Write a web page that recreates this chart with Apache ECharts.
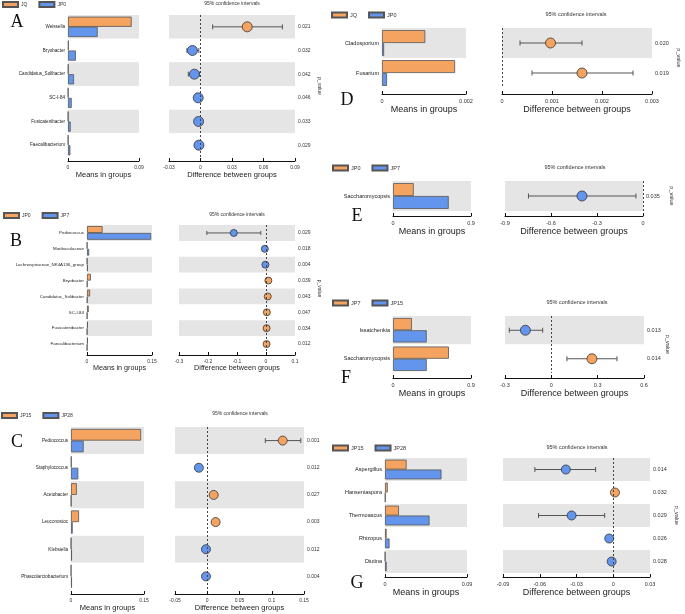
<!DOCTYPE html>
<html><head><meta charset="utf-8">
<script src="https://cdn.jsdelivr.net/npm/echarts@6/dist/echarts.min.js"></script>
<style>html,body{margin:0;padding:0;background:#fff}#c{width:685px;height:614px}</style>
</head><body><div id="c"></div><script>
// ---------- DATA ----------
const A_groups = ['JQ', 'JP0'];
const A_taxa = ['Weissella', 'Bryobacter', 'Candidatus_Solibacter', 'SC-I-84', 'Fusicatenibacter', 'Faecalibacterium'];
const A_mean1 = [0.0807, 0.0008, 0.0005, 0.0003, 0.0003, 0.0003];
const A_mean2 = [0.0376, 0.0100, 0.0076, 0.0047, 0.0034, 0.0030];
const A_diff = [0.0445, -0.0077, -0.0058, -0.0022, -0.0018, -0.0015];
const A_lo = [0.0116, -0.0129, -0.0116, -0.0040, -0.0030, -0.0026];
const A_hi = [0.0780, -0.0016, -0.0010, -0.0005, -0.0006, -0.0004];
const A_p = ['0.021', '0.032', '0.042', '0.046', '0.033', '0.029'];
const A_barTicks = [0, 0.09];
const A_diffTicks = [-0.03, 0, 0.03, 0.06, 0.09];

const B_groups = ['JP0', 'JP7'];
const B_taxa = ['Pediococcus', 'Muribaculaceae', 'Lachnospiraceae_NK4A136_group', 'Bryobacter', 'Candidatus_Solibacter', 'SC-I-84', 'Fusicatenibacter', 'Faecalibacterium'];
const B_mean1 = [0.036, 0.0005, 0.0005, 0.009, 0.007, 0.004, 0.002, 0.002];
const B_mean2 = [0.148, 0.005, 0.002, 0.001, 0.001, 0.0005, 0.0005, 0.0005];
const B_diff = [-0.111, -0.004, -0.002, 0.008, 0.006, 0.003, 0.002, 0.002];
const B_lo = [-0.204, -0.007, -0.004, 0.005, 0.003, 0.001, 0.000, 0.000];
const B_hi = [-0.018, -0.001, 0.000, 0.011, 0.009, 0.005, 0.004, 0.004];
const B_p = ['0.029', '0.018', '0.004', '0.039', '0.043', '0.047', '0.034', '0.012'];
const B_barTicks = [0, 0.15];
const B_diffTicks = [-0.3, -0.2, -0.1, 0, 0.1];

const C_groups = ['JP15', 'JP28'];
const C_taxa = ['Pediococcus', 'Staphylococcus', 'Acetobacter', 'Leuconostoc', 'Klebsiella', 'Phascolarctobacterium'];
const C_mean1 = [0.144, 0.001, 0.012, 0.0165, 0.0003, 0.0002];
const C_mean2 = [0.026, 0.015, 0.0005, 0.0035, 0.002, 0.002];
const C_diff = [0.117, -0.013, 0.010, 0.013, -0.002, -0.002];
const C_lo = [0.090, -0.016, 0.007, 0.010, -0.003, -0.003];
const C_hi = [0.145, -0.010, 0.013, 0.016, 0.0015, 0.0015];
const C_p = ['0.001', '0.012', '0.027', '0.003', '0.012', '0.004'];
const C_barTicks = [0, 0.15];
const C_diffTicks = [-0.05, 0, 0.05, 0.1, 0.15];

const D_groups = ['JQ', 'JP0'];
const D_taxa = ['Cladosporium', 'Fusarium'];
const D_mean1 = [0.00103, 0.00174];
const D_mean2 = [0.00005, 0.00012];
const D_diff = [0.00097, 0.0016];
const D_lo = [0.00036, 0.0006];
const D_hi = [0.0016, 0.00262];
const D_p = ['0.020', '0.019'];
const D_barTicks = [0, 0.002];
const D_diffTicks = [0, 0.001, 0.002, 0.003];

const E_groups = ['JP0', 'JP7'];
const E_taxa = ['Saccharomycopsis'];
const E_mean1 = [0.239];
const E_mean2 = [0.643];
const E_diff = [-0.398];
const E_lo = [-0.747];
const E_hi = [-0.046];
const E_p = ['0.035'];
const E_barTicks = [0, 0.9];
const E_diffTicks = [-0.9, -0.6, -0.3, 0];

const F_groups = ['JP7', 'JP15'];
const F_taxa = ['Issatchenkia', 'Saccharomycopsis'];
const F_mean1 = [0.218, 0.645];
const F_mean2 = [0.389, 0.389];
const F_diff = [-0.168, 0.263];
const F_lo = [-0.272, 0.101];
const F_hi = [-0.056, 0.425];
const F_p = ['0.013', '0.014'];
const F_barTicks = [0, 0.9];
const F_diffTicks = [-0.3, 0, 0.3, 0.6];

const G_groups = ['JP15', 'JP28'];
const G_taxa = ['Aspergillus', 'Hanseniaspora', 'Thermoascus', 'Rhizopus', 'Diutina'];
const G_mean1 = [0.0237, 0.003, 0.0153, 0.0018, 0.0002];
const G_mean2 = [0.062, 0.0005, 0.0489, 0.005, 0.0018];
const G_diff = [-0.0387, 0.0014, -0.034, -0.0033, -0.0013];
const G_lo = [-0.064, 0.0000, -0.061, -0.005, -0.0025];
const G_hi = [-0.0144, 0.003, -0.007, -0.0015, -0.0003];
const G_p = ['0.014', '0.032', '0.029', '0.026', '0.028'];
const G_barTicks = [0, 0.09];
const G_diffTicks = [-0.09, -0.06, -0.03, 0, 0.03];

const CI_TITLE = '95% confidence intervals';
const BAR_AXIS_NAME = 'Means in groups';
const DIFF_AXIS_NAME = 'Difference between groups';
const P_NAME = 'p_value';

const PANELS = [
  {id:'A', groups:A_groups, taxa:A_taxa, m1:A_mean1, m2:A_mean2, diff:A_diff, lo:A_lo, hi:A_hi, p:A_p, barTicks:A_barTicks, diffTicks:A_diffTicks},
  {id:'B', groups:B_groups, taxa:B_taxa, m1:B_mean1, m2:B_mean2, diff:B_diff, lo:B_lo, hi:B_hi, p:B_p, barTicks:B_barTicks, diffTicks:B_diffTicks},
  {id:'C', groups:C_groups, taxa:C_taxa, m1:C_mean1, m2:C_mean2, diff:C_diff, lo:C_lo, hi:C_hi, p:C_p, barTicks:C_barTicks, diffTicks:C_diffTicks},
  {id:'D', groups:D_groups, taxa:D_taxa, m1:D_mean1, m2:D_mean2, diff:D_diff, lo:D_lo, hi:D_hi, p:D_p, barTicks:D_barTicks, diffTicks:D_diffTicks},
  {id:'E', groups:E_groups, taxa:E_taxa, m1:E_mean1, m2:E_mean2, diff:E_diff, lo:E_lo, hi:E_hi, p:E_p, barTicks:E_barTicks, diffTicks:E_diffTicks},
  {id:'F', groups:F_groups, taxa:F_taxa, m1:F_mean1, m2:F_mean2, diff:F_diff, lo:F_lo, hi:F_hi, p:F_p, barTicks:F_barTicks, diffTicks:F_diffTicks},
  {id:'G', groups:G_groups, taxa:G_taxa, m1:G_mean1, m2:G_mean2, diff:G_diff, lo:G_lo, hi:G_hi, p:G_p, barTicks:G_barTicks, diffTicks:G_diffTicks}
];

// ---------- LAYOUT / STYLE ----------
const LAYOUT = {
  A:{bar:[68,15,71,142], dot:[169,15,126,142], off:4, leg:[2,1], ci:[232,4], letter:[17,22], pGap:22, cat:4.6, tick:5, ttl:7.5, ds:10, cap:5, nGap:8, ciFs:5, legFs:5},
  B:{bar:[87,225,65,127], dot:[179,225,116,127], off:3, leg:[3,212], ci:[237,215], letter:[16,241], pGap:22, cat:4.4, tick:5, ttl:7.2, ds:7, cap:4, nGap:7, ciFs:5, legFs:5},
  C:{bar:[71,427,73,163], dot:[175,427,129,163], off:4, leg:[1,412], ci:[240,414], letter:[17,442], pGap:null, cat:4.6, tick:5, ttl:7.5, ds:9, cap:5, nGap:8, ciFs:5, legFs:5},
  D:{bar:[382,28,84,60], dot:[502,28,150,60], off:6, leg:[331,11.5], ci:[576,14], letter:[347,100], pGap:24, cat:5.5, tick:5.5, ttl:9, ds:10, cap:5, nGap:9, ciFs:5.5, legFs:5.5},
  E:{bar:[393,181,78,30], dot:[505,181,138,30], off:5, leg:[332,164.5], ci:[575,167], letter:[357,216], pGap:26, cat:5.5, tick:5.5, ttl:9, ds:10, cap:5, nGap:9, ciFs:5.5, legFs:5.5},
  F:{bar:[393,316,78,57], dot:[505,316,139,57], off:5, leg:[332,299.5], ci:[577,302], letter:[346,378], pGap:18, cat:5.5, tick:5.5, ttl:9, ds:10, cap:5, nGap:9, ciFs:5.5, legFs:5.5},
  G:{bar:[385,458,82,115], dot:[503,458,147,115], off:4, leg:[332,444.5], ci:[577,447], letter:[357,583], pGap:24, cat:5.5, tick:5.5, ttl:9, ds:9, cap:5, nGap:8, ciFs:5.5, legFs:5.5}
};
const ORANGE = '#F4A460', BLUE = '#6495ED', EDGE = '#555555', BAND = '#e5e5e5';
const FONT = '"Liberation Sans", Arial, sans-serif';
const fmtNum = (v) => String(parseFloat(Number(v).toFixed(6)));

const grid = [], xAxis = [], yAxis = [], series = [], legend = [], graphic = [];

PANELS.forEach((P, i) => {
  const L = LAYOUT[P.id];
  const gb = grid.length, gd = gb + 1;
  grid.push({left:L.bar[0], top:L.bar[1], width:L.bar[2], height:L.bar[3]});
  grid.push({left:L.dot[0], top:L.dot[1], width:L.dot[2], height:L.dot[3]});
  const bt = P.barTicks, dt = P.diffTicks;
  const axisCommon = {
    axisLine:{show:true, onZero:false, lineStyle:{color:'#111', width:1}},
    axisTick:{show:true, inside:true, length:3, lineStyle:{color:'#111'}},
    splitLine:{show:false},
    axisLabel:{fontSize:L.tick, color:'#333', margin:4, fontFamily:FONT, formatter:fmtNum},
    nameLocation:'middle', nameGap:L.nGap,
    nameTextStyle:{fontSize:L.ttl, color:'#222', fontFamily:FONT}
  };
  const xb = xAxis.length;
  xAxis.push(Object.assign({}, axisCommon, {gridIndex:gb, type:'value', offset:L.off,
    min:bt[0], max:bt[bt.length-1], interval:bt[1]-bt[0], name:BAR_AXIS_NAME}));
  xAxis.push(Object.assign({}, axisCommon, {gridIndex:gd, type:'value', offset:L.off,
    min:dt[0], max:dt[dt.length-1], interval:dt[1]-dt[0], name:DIFF_AXIS_NAME}));
  const yb = yAxis.length;
  const splitArea = {show:true, interval:0, areaStyle:{color:[BAND, '#ffffff']}};
  yAxis.push({gridIndex:gb, type:'category', data:P.taxa, inverse:true,
    axisLine:{show:false}, axisTick:{show:false}, splitLine:{show:false}, splitArea:splitArea,
    axisLabel:{interval:0, fontSize:L.cat, color:'#222', margin:3, fontFamily:FONT}});
  yAxis.push({gridIndex:gd, type:'category', data:P.taxa, inverse:true,
    axisLine:{show:false}, axisTick:{show:false}, splitLine:{show:false}, splitArea:splitArea,
    axisLabel:{show:false}});
  const pAxis = {gridIndex:gd, type:'category', data:P.taxa, inverse:true, position:'right',
    axisLine:{show:false}, axisTick:{show:false}, splitLine:{show:false},
    axisLabel:{interval:0, fontSize:L.tick, color:'#333', margin:3, fontFamily:FONT,
      formatter:(v, idx) => P.p[idx]}};
  if (L.pGap) {
    Object.assign(pAxis, {name:P_NAME, nameLocation:'middle', nameRotate:-90, nameGap:L.pGap,
      nameTextStyle:{fontSize:L.tick, color:'#333', fontFamily:FONT}});
  }
  yAxis.push(pAxis);

  const n1 = P.id + ':' + P.groups[0], n2 = P.id + ':' + P.groups[1];
  const barCommon = {type:'bar', xAxisIndex:xb, yAxisIndex:yb, barGap:'0%', barCategoryGap:'14%'};
  series.push(Object.assign({}, barCommon, {name:n1, data:P.m1,
    itemStyle:{color:ORANGE, borderColor:EDGE, borderWidth:0.8}}));
  series.push(Object.assign({}, barCommon, {name:n2, data:P.m2,
    itemStyle:{color:BLUE, borderColor:EDGE, borderWidth:0.8}}));

  // error bars
  const cap = L.cap;
  series.push({type:'custom', xAxisIndex:xb+1, yAxisIndex:yb+1, z:3,
    data:P.taxa.map((t, k) => [P.lo[k], P.hi[k], k]),
    encode:{x:[0,1], y:2},
    renderItem:(params, api) => {
      const k = api.value(2);
      const p1 = api.coord([api.value(0), k]);
      const p2 = api.coord([api.value(1), k]);
      const y = p1[1], h = cap / 2;
      const st = {stroke:'#555', lineWidth:1};
      return {type:'group', children:[
        {type:'line', shape:{x1:p1[0], y1:y, x2:p2[0], y2:y}, style:st},
        {type:'line', shape:{x1:p1[0], y1:y-h, x2:p1[0], y2:y+h}, style:st},
        {type:'line', shape:{x1:p2[0], y1:y-h, x2:p2[0], y2:y+h}, style:st}
      ]};
    }});
  // dots
  series.push({type:'scatter', xAxisIndex:xb+1, yAxisIndex:yb+1, z:4, symbolSize:L.ds,
    data:P.diff.map((d, k) => ({value:[d, k], itemStyle:{color: d > 0 ? ORANGE : BLUE}})),
    itemStyle:{borderColor:'#333', borderWidth:0.8, opacity:1},
    markLine:{silent:true, symbol:'none', label:{show:false},
      lineStyle:{color:'#444', type:[2,2], width:1}, data:[{xAxis:0}]}});

  legend.push({left:L.leg[0], top:L.leg[1], padding:0, itemWidth:15, itemHeight:5, itemGap:11,
    icon:'rect', data:[n1, n2], formatter:(name) => name.split(':')[1],
    textStyle:{fontSize:L.legFs, color:'#333', fontFamily:FONT, padding:[0,0,0,-2]},
    selectedMode:false});

  graphic.push({type:'text', silent:true,
    style:{text:CI_TITLE, x:L.ci[0], y:L.ci[1], fontSize:L.ciFs, fill:'#333', fontFamily:FONT,
      align:'center', verticalAlign:'middle'}});
  graphic.push({type:'text', silent:true,
    style:{text:P.id, x:L.letter[0], y:L.letter[1], fontSize:18, fill:'#111',
      fontFamily:'"Liberation Serif", "Times New Roman", serif', align:'center', verticalAlign:'middle'}});
});

const chart = echarts.init(document.getElementById('c'), null, {renderer:'canvas'});
chart.setOption({
  animation:false,
  backgroundColor:'#ffffff',
  textStyle:{fontFamily:FONT},
  grid, xAxis, yAxis, series, legend, graphic
});
</script></body></html>
